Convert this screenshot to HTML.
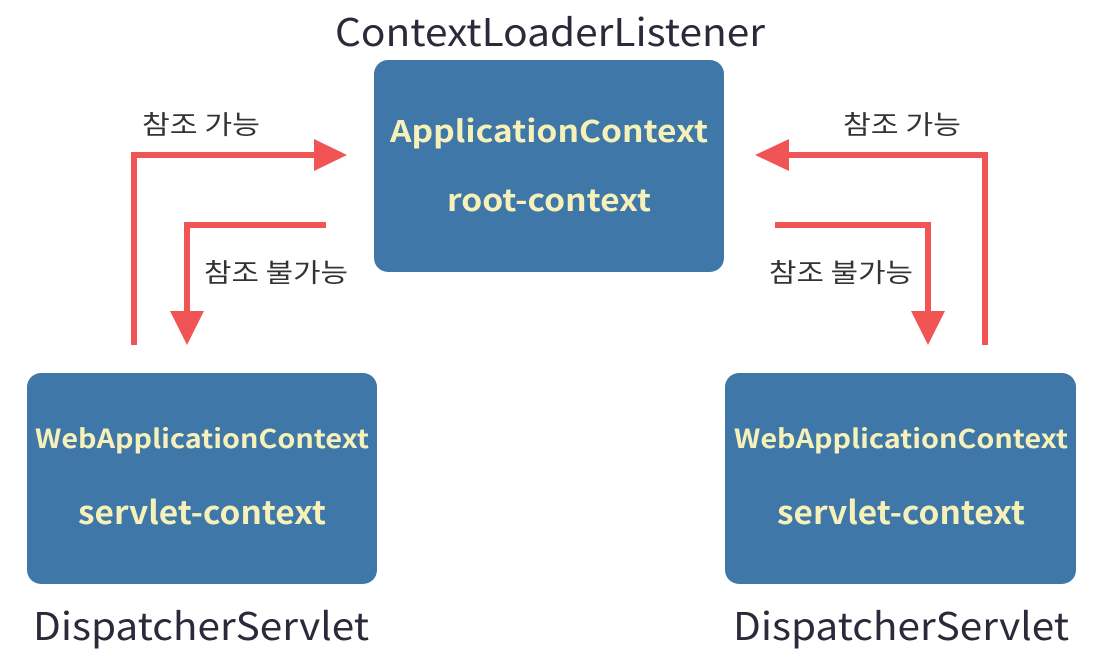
<!DOCTYPE html>
<html><head><meta charset="utf-8"><style>
html,body{margin:0;padding:0;background:#fff;width:1114px;height:656px;overflow:hidden}
text{font-family:"Noto Sans CJK KR","Liberation Sans",sans-serif}
</style></head><body>
<svg width="1114" height="656" viewBox="0 0 1114 656" xmlns="http://www.w3.org/2000/svg">
<rect width="1114" height="656" fill="#fff"/>
<!-- boxes -->
<rect x="374" y="60" width="350" height="212" rx="14" fill="#3f77a8"/>
<rect x="27" y="373" width="350" height="211" rx="14" fill="#3f77a8"/>
<rect x="725" y="373" width="351" height="211" rx="14" fill="#3f77a8"/>
<!-- labels -->
<text x="335" y="46" font-size="38" fill="#2a2a3a" textLength="430" lengthAdjust="spacingAndGlyphs">ContextLoaderListener</text>
<text x="33" y="640" font-size="38" fill="#2a2a3a" textLength="336" lengthAdjust="spacingAndGlyphs">DispatcherServlet</text>
<text x="733" y="640" font-size="38" fill="#2a2a3a" textLength="336" lengthAdjust="spacingAndGlyphs">DispatcherServlet</text>
<g fill="#f6f1b8" font-weight="bold">
<text x="390" y="142" font-size="30" textLength="318" lengthAdjust="spacingAndGlyphs">ApplicationContext</text>
<text x="447" y="211" font-size="30" textLength="204" lengthAdjust="spacingAndGlyphs">root-context</text>
<text x="35" y="448" font-size="26" textLength="334" lengthAdjust="spacingAndGlyphs">WebApplicationContext</text>
<text x="78" y="524" font-size="32" textLength="248" lengthAdjust="spacingAndGlyphs">servlet-context</text>
<text x="734" y="448" font-size="26" textLength="334" lengthAdjust="spacingAndGlyphs">WebApplicationContext</text>
<text x="777" y="524" font-size="32" textLength="248" lengthAdjust="spacingAndGlyphs">servlet-context</text>
</g>
<g fill="#333" font-size="26">
<text x="142" y="134" textLength="118" lengthAdjust="spacingAndGlyphs">참조 가능</text>
<text x="843" y="134" textLength="118" lengthAdjust="spacingAndGlyphs">참조 가능</text>
<text x="204" y="282" textLength="144" lengthAdjust="spacingAndGlyphs">참조 불가능</text>
<text x="769" y="282" textLength="144" lengthAdjust="spacingAndGlyphs">참조 불가능</text>
</g>
<!-- arrows -->
<g stroke="#f05455" stroke-width="6" fill="none">
<polyline points="134,345 134,155 318,155"/>
<polyline points="326,225 187,225 187,318"/>
<polyline points="985,345 985,155 785,155"/>
<polyline points="775,225 928,225 928,318"/>
</g>
<g fill="#f05455">
<polygon points="314,139 347,155 314,171"/>
<polygon points="170,311 187,345 204,311"/>
<polygon points="789,139 755,155 789,171"/>
<polygon points="911,311 928,345 945,311"/>
</g>
</svg>
</body></html>
